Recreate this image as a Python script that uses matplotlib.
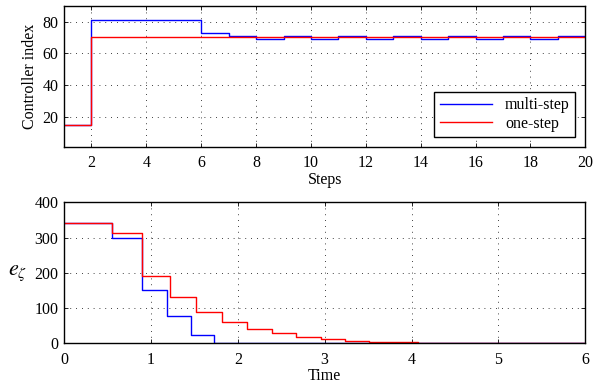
import numpy as np
import matplotlib
matplotlib.use("Agg")
import matplotlib.pyplot as plt

plt.rcParams["font.family"] = ["Liberation Serif", "DejaVu Serif"]
plt.rcParams["mathtext.fontset"] = "stix"
plt.rcParams["font.size"] = 11.5

# ── controller index per step (value held from step k to k+1) ──
steps = np.arange(1, 21)
idx_multi = [15, 81, 81, 81, 81, 73, 71, 69, 71, 69, 71, 69, 71, 69, 71, 69, 71, 69, 71]
idx_one = [15] + [70] * 18

# ── tracking error e_zeta over time ──
t_multi = [0, 0.553, 0.895, 1.183, 1.463, 1.728, 2.00, 2.28, 2.56, 2.84, 3.12, 3.40, 3.68, 6.0]
e_multi = [342, 298, 152, 77, 24, 0, 0.5, 1, 2, 0.5, 2, 0.3, 0]
t_one = [0, 0.553, 0.895, 1.221, 1.52, 1.817, 2.105, 2.389, 2.67, 2.957, 3.23, 3.51, 3.79,
         4.08, 4.36, 4.65, 4.93, 5.22, 5.50, 5.79, 6.0]
e_one = [342, 312, 192, 130, 88, 60, 41, 28, 19, 12, 7.5, 4.5, 3, 2, 1.3, 0.9, 0.6, 0.4, 0.3, 0.2]

fig = plt.figure(figsize=(5.93, 3.87), dpi=100)
ax1 = fig.add_axes([0.108, 0.621, 0.879, 0.364])
ax2 = fig.add_axes([0.108, 0.113, 0.879, 0.364])


def style(ax):
    ax.grid(True, linestyle=(0, (1, 6)), color="black", linewidth=0.6)
    ax.tick_params(direction="in", top=True, right=True, length=3, width=0.6,
                   labelsize=11.5)
    ax.tick_params(axis="x", pad=6)
    ax.tick_params(axis="y", pad=4)
    for s in ax.spines.values():
        s.set_linewidth(1.0)


ax1.step(steps, idx_multi + idx_multi[-1:], where="post", color="blue", lw=1.0, label="multi-step")
ax1.step(steps, idx_one + idx_one[-1:], where="post", color="red", lw=1.0, label="one-step")
ax1.set_xlim(1, 20)
ax1.set_ylim(1, 90)
ax1.set_xticks(np.arange(2, 21, 2))
ax1.set_yticks([20, 40, 60, 80])
ax1.set_xlabel("Steps", labelpad=1)
ax1.set_ylabel("Controller index", labelpad=3)
style(ax1)
leg = ax1.legend(loc="lower right", bbox_to_anchor=(0.981, 0.067), borderaxespad=0,
                 fancybox=False, framealpha=1, edgecolor="black", handlelength=3.3,
                 fontsize=11.5, borderpad=0.35, labelspacing=0.15, handletextpad=0.8)
leg.get_frame().set_linewidth(1.0)

ax2.step(t_multi, e_multi + e_multi[-1:], where="post", color="blue", lw=1.0)
ax2.step(t_one, e_one + e_one[-1:], where="post", color="red", lw=1.0)
ax2.set_xlim(0, 6)
ax2.set_ylim(0, 400)
ax2.set_yticks([0, 100, 200, 300, 400])
ax2.set_xlabel("Time", labelpad=0)
ax2.set_ylabel(r"$e_{\zeta}$", rotation=0, fontsize=16, labelpad=12, va="center")
style(ax2)

fig.savefig("out.png", dpi=100)
